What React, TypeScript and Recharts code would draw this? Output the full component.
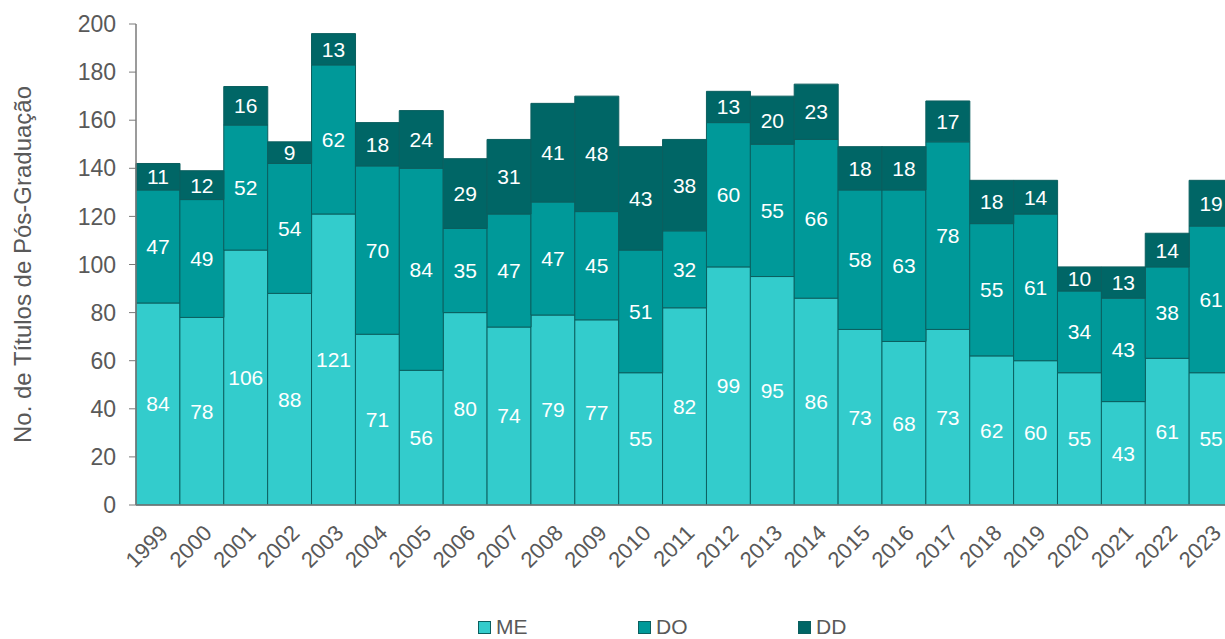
import { Bar, BarChart, LabelList, Legend, XAxis, YAxis } from 'recharts'

const years = [
  '1999', '2000', '2001', '2002', '2003', '2004', '2005', '2006', '2007', '2008', '2009', '2010', '2011',
  '2012', '2013', '2014', '2015', '2016', '2017', '2018', '2019', '2020', '2021', '2022', '2023',
]
const me = [84, 78, 106, 88, 121, 71, 56, 80, 74, 79, 77, 55, 82, 99, 95, 86, 73, 68, 73, 62, 60, 55, 43, 61, 55]
const doutorado = [47, 49, 52, 54, 62, 70, 84, 35, 47, 47, 45, 51, 32, 60, 55, 66, 58, 63, 78, 55, 61, 34, 43, 38, 61]
const dd = [11, 12, 16, 9, 13, 18, 24, 29, 31, 41, 48, 43, 38, 13, 20, 23, 18, 18, 17, 18, 14, 10, 13, 14, 19]
const yTicks = [0, 20, 40, 60, 80, 100, 120, 140, 160, 180, 200]

const series = [
  { key: 'ME', color: '#33cccc' },
  { key: 'DO', color: '#009999' },
  { key: 'DD', color: '#006666' },
]

const data = years.map((year, i) => ({ year, ME: me[i], DO: doutorado[i], DD: dd[i] }))

const FONT = '"Liberation Sans", Arial, sans-serif'
const GRAY = '#595959'

function YearTick({ x, y, payload }: any) {
  return (
    <g transform={`translate(${x + 6},${y + 16})`}>
      <text textAnchor="end" transform="rotate(-45)" fill={GRAY} fontSize={22} fontFamily={FONT} dy="0.35em">
        {payload.value}
      </text>
    </g>
  )
}

function LegendRow() {
  return (
    <div
      style={{
        display: 'flex',
        paddingLeft: 478,
        height: 20,
        lineHeight: '20px',
        fontFamily: FONT,
        fontSize: 21,
        color: GRAY,
      }}
    >
      {series.map((s) => (
        <div key={s.key} style={{ width: 160, display: 'flex', alignItems: 'center' }}>
          <span
            style={{
              width: 11,
              height: 11,
              background: s.color,
              border: '1px solid #0b5f5f',
              marginRight: 5,
              display: 'inline-block',
            }}
          />
          <span>{s.key}</span>
        </div>
      ))}
    </div>
  )
}

export default function App() {
  return (
    <div style={{ position: 'absolute', left: 0, top: 0, width: 1225, height: 639, overflow: 'hidden', background: '#fff' }}>
      <BarChart
        width={1245}
        height={639}
        data={data}
        margin={{ top: 24, right: 12, left: 0, bottom: 0 }}
        barCategoryGap={0}
        barGap={0}
      >
        <XAxis
          dataKey="year"
          interval={0}
          height={114}
          tickLine={false}
          axisLine={{ stroke: '#7a7a7a', strokeWidth: 1.5 }}
          tick={<YearTick />}
        />
        <YAxis
          width={136}
          domain={[0, 200]}
          ticks={yTicks}
          tickSize={7}
          tickMargin={13}
          axisLine={{ stroke: '#7a7a7a', strokeWidth: 1.5 }}
          tickLine={{ stroke: '#7a7a7a' }}
          tick={{ fill: GRAY, fontSize: 23, fontFamily: FONT }}
          label={{
            value: 'No. de Títulos de Pós-Graduação',
            angle: -90,
            position: 'insideLeft',
            offset: 22,
            style: { textAnchor: 'middle', fill: GRAY, fontSize: 24, fontFamily: FONT },
          }}
        />
        <Legend verticalAlign="bottom" content={<LegendRow />} wrapperStyle={{ bottom: 2 }} />
        {series.map((s) => (
          <Bar
            key={s.key}
            dataKey={s.key}
            stackId="a"
            fill={s.color}
            stroke="#0b5f5f"
            strokeWidth={1}
            isAnimationActive={false}
          >
            <LabelList dataKey={s.key} position="center" fill="#ffffff" fontSize={21} fontFamily={FONT} />
          </Bar>
        ))}
      </BarChart>
    </div>
  )
}
